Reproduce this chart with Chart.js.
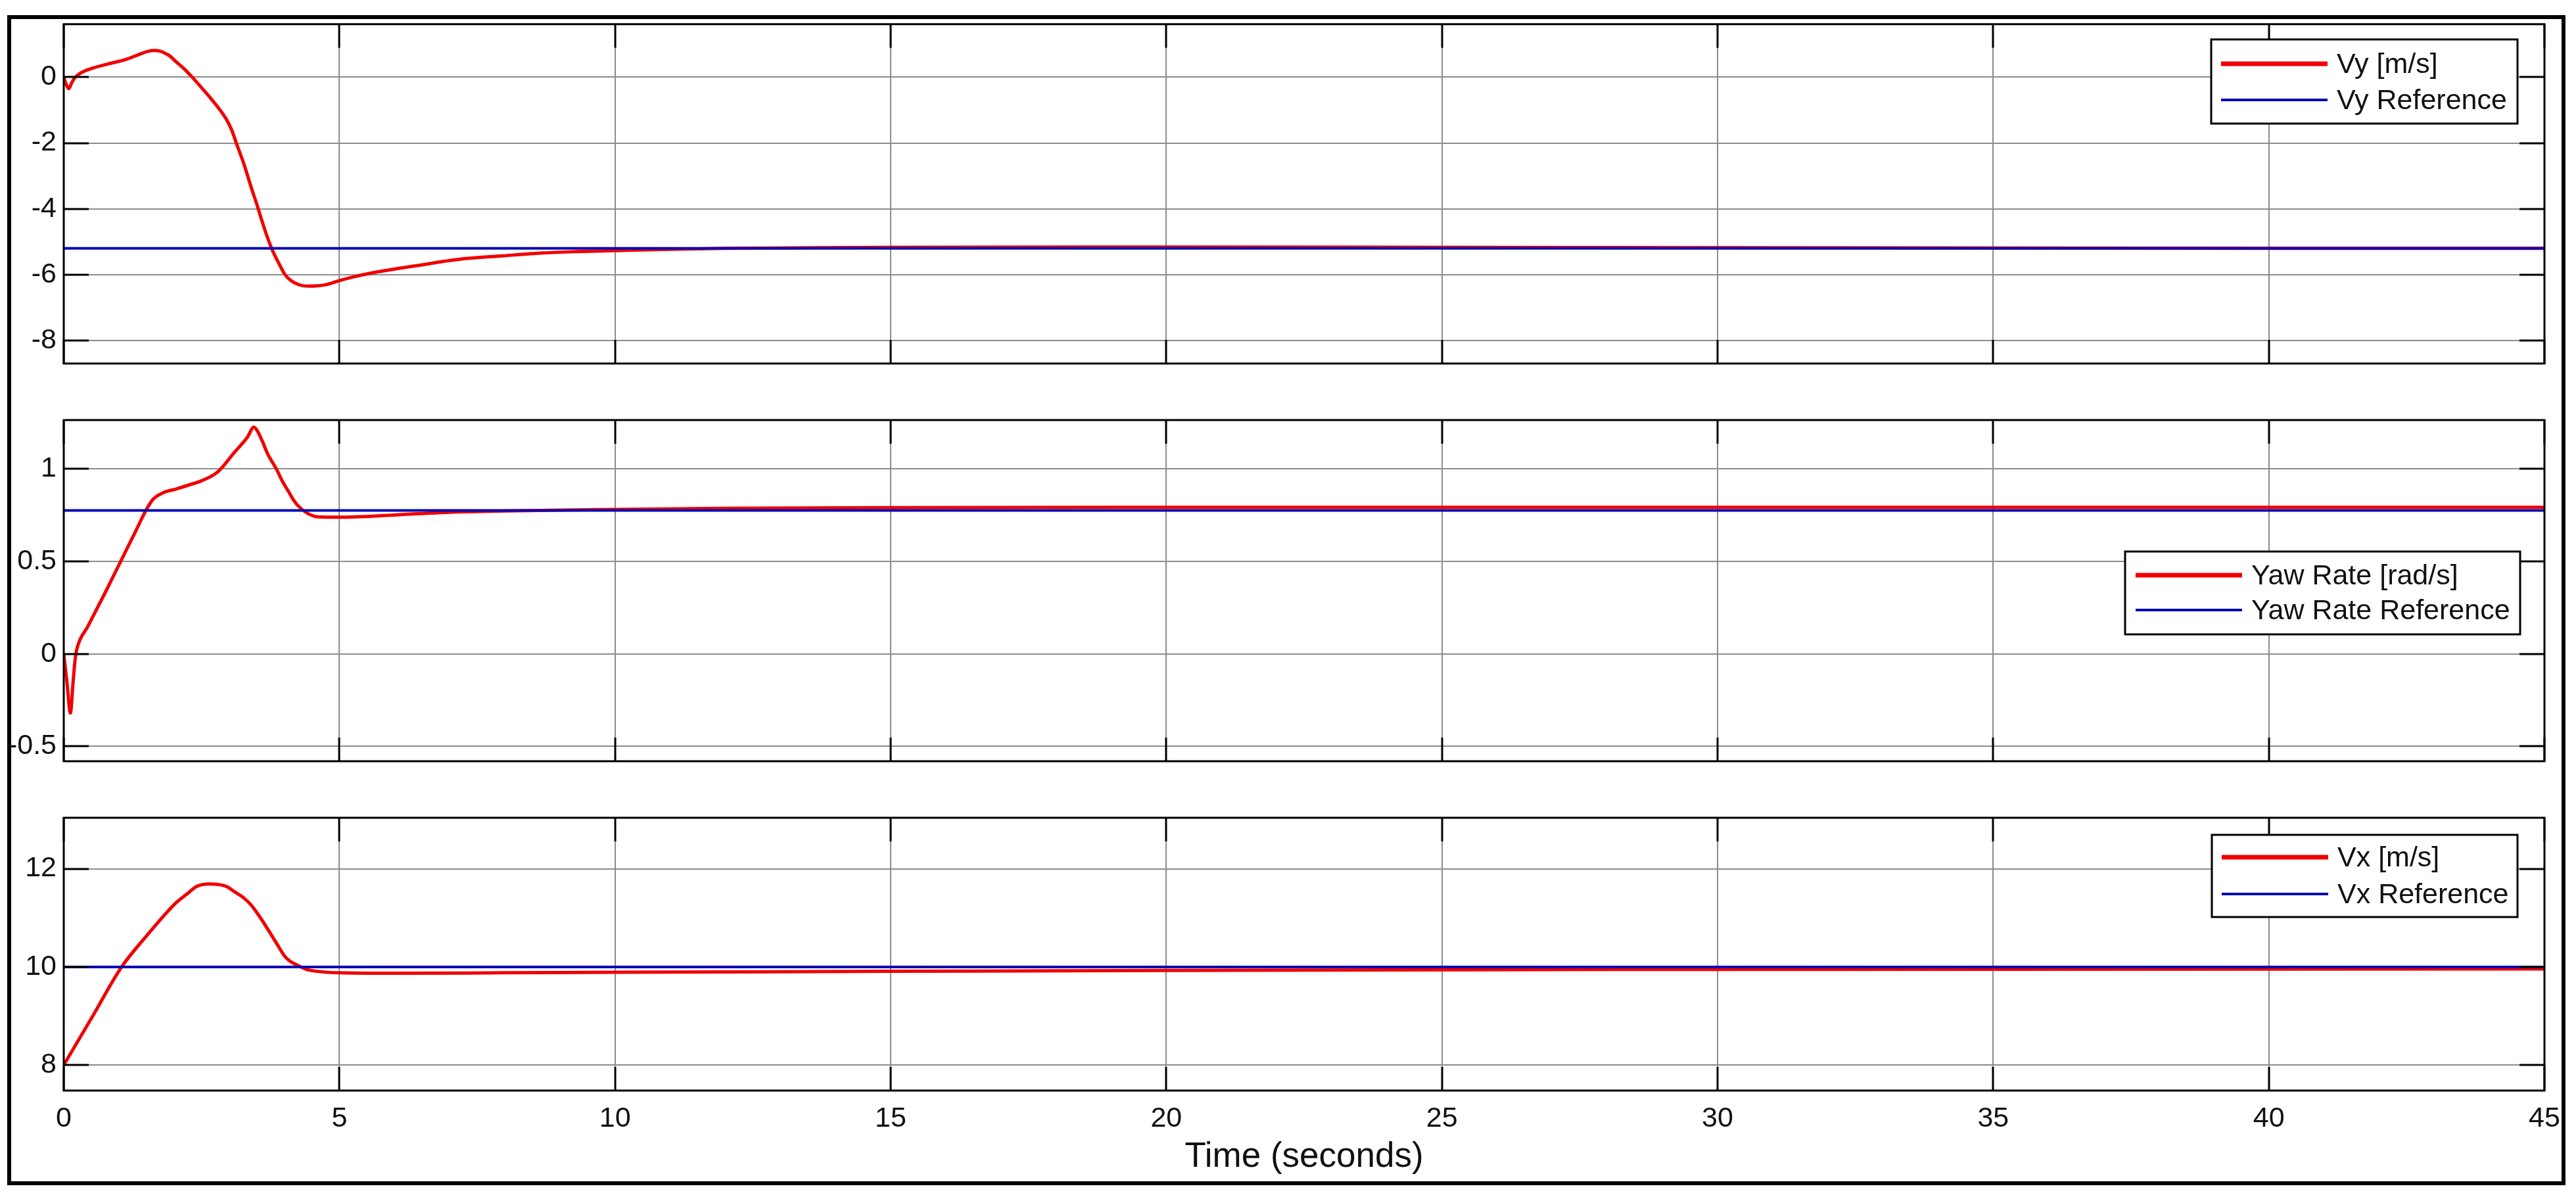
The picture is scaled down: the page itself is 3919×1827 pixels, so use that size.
<!DOCTYPE html>
<html>
<head>
<meta charset="utf-8">
<title>Vehicle response</title>
<script src="https://cdn.jsdelivr.net/npm/chart.js@4.4.1/dist/chart.umd.min.js"></script>
<style>
  html, body { margin: 0; padding: 0; background: #fff; }
  #wrap { position: relative; width: 3919px; height: 1827px; overflow: hidden; background: #fff; }
  #wrap canvas { position: absolute; left: 0; top: 0; }
  #frame { position: absolute; left: 11px; top: 23px; width: 3880px; height: 1768px; border: 6px solid #000; }
</style>
</head>
<body>
<div id="wrap">
  <div id="frame"></div>
  <canvas id="vyChart" width="3919" height="1827"></canvas>
  <canvas id="yawChart" width="3919" height="1827"></canvas>
  <canvas id="vxChart" width="3919" height="1827"></canvas>
</div>
<script>
// time axis
var timeTicks = [0, 5, 10, 15, 20, 25, 30, 35, 40, 45];

// lateral velocity
var vyTime = [0, 0.04, 0.09, 0.15, 0.21, 0.3, 0.48, 0.8, 1.13, 1.35, 1.54, 1.65, 1.75, 1.81, 1.92, 2.03, 2.18, 2.33, 2.5, 2.64, 2.8, 2.95, 3.05, 3.13, 3.28, 3.4, 3.5, 3.59, 3.67, 3.78, 3.9, 4.01, 4.1, 4.2, 4.32, 4.46, 4.6, 4.77, 5.0, 5.3, 5.68, 6.0, 6.43, 6.8, 7.19, 7.95, 8.7, 9.3, 10, 11, 12, 13, 15, 20, 25, 30, 35, 40, 45];
var vyValues = [0, -0.2, -0.35, -0.15, 0.0, 0.12, 0.25, 0.4, 0.54, 0.68, 0.79, 0.81, 0.79, 0.75, 0.65, 0.48, 0.26, 0.0, -0.32, -0.59, -0.92, -1.28, -1.62, -2.0, -2.7, -3.35, -3.85, -4.34, -4.75, -5.24, -5.65, -5.99, -6.15, -6.26, -6.33, -6.35, -6.34, -6.3, -6.18, -6.05, -5.92, -5.83, -5.72, -5.62, -5.53, -5.43, -5.34, -5.3, -5.27, -5.23, -5.2, -5.19, -5.17, -5.16, -5.17, -5.18, -5.19, -5.2, -5.2];
var vyRefTime = [0, 45];
var vyRefValues = [-5.2, -5.2];
var vyTicks = [-8, -6, -4, -2, 0];

// yaw rate
var yawTime = [0, 0.06, 0.12, 0.17, 0.21, 0.25, 0.44, 0.75, 1.05, 1.3, 1.5, 1.62, 1.8, 2.03, 2.3, 2.5, 2.8, 3.1, 3.33, 3.45, 3.52, 3.6, 3.7, 3.86, 3.97, 4.08, 4.17, 4.25, 4.39, 4.5, 4.6, 5.0, 6.0, 7.0, 8.0, 10, 12, 15, 20, 30, 45];
var yawValues = [0, -0.16, -0.32, -0.15, -0.02, 0.04, 0.15, 0.33, 0.51, 0.66, 0.78, 0.835, 0.87, 0.89, 0.915, 0.935, 0.985, 1.09, 1.17, 1.225, 1.2, 1.15, 1.08, 0.997, 0.93, 0.876, 0.83, 0.8, 0.765, 0.748, 0.74, 0.738, 0.75, 0.765, 0.772, 0.78, 0.786, 0.79, 0.792, 0.792, 0.792];
var yawRefTime = [0, 45];
var yawRefValues = [0.775, 0.775];
var yawTicks = [-0.5, 0, 0.5, 1];

// longitudinal velocity
var vxTime = [0, 0.5, 1.05, 1.5, 2.03, 2.25, 2.41, 2.64, 2.8, 2.95, 3.1, 3.25, 3.4, 3.55, 3.7, 3.85, 4.0, 4.1, 4.25, 4.4, 4.6, 5.0, 6.0, 8.0, 10, 15, 20, 30, 45];
var vxValues = [8.0, 8.95, 10.0, 10.63, 11.3, 11.5, 11.64, 11.69, 11.68, 11.64, 11.53, 11.42, 11.26, 11.03, 10.77, 10.5, 10.23, 10.12, 10.03, 9.95, 9.91, 9.88, 9.87, 9.88, 9.89, 9.91, 9.93, 9.95, 9.96];
var vxRefTime = [0, 45];
var vxRefValues = [10, 10];
var vxTicks = [8, 10, 12];

var FONT = "'Liberation Sans', Arial, Helvetica, sans-serif";
var RED = '#f00000';
var BLUE = '#0a0ab4';

function toPoints(xs, ys) {
    return xs.map(function (x, i) {
        return { x: x, y: ys[i] };
    });
}

// plot box with inward tick marks, like the original figure
var axesBox = {
    id: 'axesBox',
    afterDatasetsDraw: function (chart) {
        var ctx = chart.ctx;
        var a = chart.chartArea;
        var xs = chart.scales.x;
        var ys = chart.scales.y;
        ctx.save();
        ctx.strokeStyle = '#000';
        ctx.lineWidth = 3;
        ctx.beginPath();
        xs.ticks.forEach(function (t) {
            var px = Math.round(xs.getPixelForValue(t.value));
            ctx.moveTo(px, a.top);
            ctx.lineTo(px, a.top + 36);
            ctx.moveTo(px, a.bottom);
            ctx.lineTo(px, a.bottom - 36);
        });
        ys.ticks.forEach(function (t) {
            var py = Math.round(ys.getPixelForValue(t.value));
            ctx.moveTo(a.left, py);
            ctx.lineTo(a.left + 38, py);
            ctx.moveTo(a.right, py);
            ctx.lineTo(a.right - 38, py);
        });
        ctx.stroke();
        ctx.strokeRect(a.left, a.top, a.right - a.left, a.bottom - a.top);
        ctx.restore();
    }
};

var legendBox = {
    id: 'legendBox',
    afterDraw: function (chart, args, opts) {
        var ctx = chart.ctx;
        ctx.save();
        ctx.fillStyle = '#fff';
        ctx.fillRect(opts.x, opts.y, opts.w, opts.h);
        ctx.lineWidth = 3;
        ctx.strokeStyle = '#000';
        ctx.strokeRect(opts.x, opts.y, opts.w, opts.h);
        ctx.font = '43px ' + FONT;
        ctx.textBaseline = 'middle';
        ctx.textAlign = 'left';
        chart.data.datasets.forEach(function (ds, i) {
            var y = opts.y + opts.firstRow + i * opts.rowGap;
            ctx.strokeStyle = ds.borderColor;
            ctx.lineWidth = i === 0 ? 7 : 4;
            ctx.beginPath();
            ctx.moveTo(opts.x + opts.lineStart, y);
            ctx.lineTo(opts.x + opts.lineStart + 162, y);
            ctx.stroke();
            ctx.fillStyle = '#111';
            ctx.fillText(ds.label, opts.x + opts.lineStart + 176, y + 2);
        });
        ctx.restore();
    }
};

function buildPanel(id, labels, signal, reference, yMin, yMax, yTicks, area, legend, showTime) {
    var ctx = document.getElementById(id).getContext('2d');
    return new Chart(ctx, {
        type: 'line',
        data: {
            datasets: [{
                label: labels[0],
                data: signal,
                borderColor: RED,
                borderWidth: 5,
                pointRadius: 0,
                cubicInterpolationMode: 'monotone',
                order: 1
            }, {
                label: labels[1],
                data: reference,
                borderColor: BLUE,
                borderWidth: 4,
                pointRadius: 0,
                order: 0
            }]
        },
        options: {
            responsive: false,
            animation: false,
            events: [],
            layout: {
                padding: { left: 0, right: 48, top: area.top, bottom: area.bottom }
            },
            plugins: {
                legend: { display: false },
                tooltip: { enabled: false },
                legendBox: legend
            },
            scales: {
                x: {
                    type: 'linear',
                    min: 0,
                    max: 45,
                    afterBuildTicks: function (scale) {
                        scale.ticks = timeTicks.map(function (v) { return { value: v }; });
                    },
                    afterFit: function (scale) {
                        scale.height = showTime ? 141 : 0;
                    },
                    border: { display: false },
                    grid: { color: '#8c8c8c', lineWidth: 2, drawTicks: false },
                    ticks: {
                        display: showTime,
                        padding: 17,
                        color: '#111',
                        font: { family: FONT, size: 43 },
                        maxRotation: 0,
                        callback: function (v) { return String(v); }
                    },
                    title: {
                        display: showTime,
                        text: 'Time (seconds)',
                        color: '#111',
                        font: { family: FONT, size: 53 },
                        padding: { top: 0, bottom: 8 }
                    }
                },
                y: {
                    type: 'linear',
                    min: yMin,
                    max: yMax,
                    afterBuildTicks: function (scale) {
                        scale.ticks = yTicks.map(function (v) { return { value: v }; });
                    },
                    afterFit: function (scale) {
                        scale.width = 97;
                    },
                    border: { display: false },
                    grid: { color: '#8c8c8c', lineWidth: 2, drawTicks: false },
                    ticks: {
                        padding: 11,
                        color: '#111',
                        font: { family: FONT, size: 43 },
                        callback: function (v) { return String(v); }
                    }
                }
            }
        },
        plugins: [axesBox, legendBox]
    });
}

Chart.defaults.font.family = FONT;

buildPanel('vyChart', ['Vy [m/s]', 'Vy Reference'],
    toPoints(vyTime, vyValues), toPoints(vyRefTime, vyRefValues),
    -8.7, 1.61, vyTicks,
    { top: 35, bottom: 1274 },
    { x: 3364, y: 60, w: 466, h: 128, lineStart: 15, firstRow: 37, rowGap: 55 },
    false);

buildPanel('yawChart', ['Yaw Rate [rad/s]', 'Yaw Rate Reference'],
    toPoints(yawTime, yawValues), toPoints(yawRefTime, yawRefValues),
    -0.58, 1.263, yawTicks,
    { top: 639, bottom: 669 },
    { x: 3233, y: 839, w: 601, h: 126, lineStart: 16, firstRow: 36, rowGap: 53 },
    false);

buildPanel('vxChart', ['Vx [m/s]', 'Vx Reference'],
    toPoints(vxTime, vxValues), toPoints(vxRefTime, vxRefValues),
    7.48, 13.04, vxTicks,
    { top: 1244, bottom: 27 },
    { x: 3365, y: 1270, w: 465, h: 125, lineStart: 15, firstRow: 34, rowGap: 56 },
    true);
</script>
</body>
</html>
